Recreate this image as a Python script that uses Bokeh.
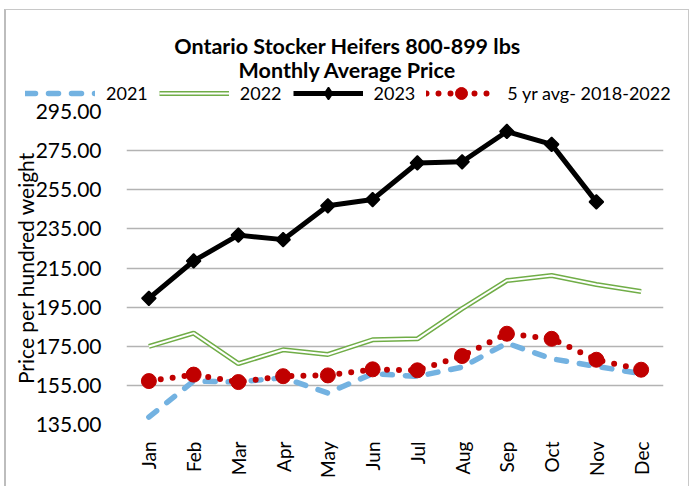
import math
from bokeh.plotting import figure
from bokeh.layouts import column
from bokeh.models import (Range1d, FactorRange, FixedTicker, PrintfTickFormatter,
                          Legend, LegendItem, Label)
from bokeh.embed import file_html
from bokeh.resources import INLINE

months = ["Jan", "Feb", "Mar", "Apr", "May", "Jun", "Jul", "Aug", "Sep", "Oct", "Nov", "Dec"]
y2021 = [138.8, 157.2, 156.7, 158.9, 151.1, 161.0, 159.6, 164.3, 176.6, 168.6, 164.7, 161.0]
y2022 = [174.9, 181.7, 166.1, 173.2, 170.8, 178.3, 178.8, 194.2, 208.6, 211.2, 206.6, 203.0]
y2023 = [199.5, 218.6, 231.8, 229.5, 246.8, 250.0, 268.7, 269.3, 284.8, 278.2, 248.8]
avg5 = [157.2, 160.5, 156.7, 159.7, 160.1, 163.2, 162.7, 170.0, 181.4, 178.8, 168.1, 163.0]
y_ticks = [135, 155, 175, 195, 215, 235, 255, 275, 295]
title_lines = ["Ontario Stocker Heifers 800-899 lbs", "Monthly Average Price"]
legend_labels = ["2021", "2022", "2023", "5 yr avg- 2018-2022"]

FONT = "Lato"
C21, C22, C23, C5 = "#73b2e1", "#70ad47", "black", "#c00000"

W = 682
HEAD_H = 93


def style_2021(fig, x, y):
    return [fig.line(x, y, line_color=C21, line_width=5.5, line_dash="10 13", line_cap="round")]


def style_2022(fig, x, y):
    a = fig.line(x, y, line_color=C22, line_width=5)
    b = fig.line(x, y, line_color="white", line_width=2)
    return [a, b]


def style_2023(fig, x, y, marker="square", angle=math.pi / 4):
    a = fig.line(x, y, line_color=C23, line_width=5, line_join="round")
    b = fig.scatter(x, y, marker=marker, angle=angle, size=10,
                    fill_color=C23, line_color=C23, line_width=1.5)
    return [a, b]


def style_avg(fig, x, y):
    a = fig.line(x, y, line_color=C5, line_width=6, line_dash="0 12", line_cap="round")
    b = fig.scatter(x, y, marker="circle", size=15, fill_color=C5, line_color=C5)
    return [a, b]


# ---------------- main chart ----------------
p = figure(width=W, height=383, output_backend="svg", toolbar_location=None,
           title=None,
           x_range=FactorRange(*months, range_padding=0),
           y_range=Range1d(135, 295),
           min_border_left=120, min_border_right=25, min_border_top=8, min_border_bottom=62)
p.frame_align = False
p.outline_line_color = None
p.background_fill_color = "white"
p.border_fill_color = "white"

p.xgrid.grid_line_color = None
p.ygrid.grid_line_color = "#b3b3b3"
p.ygrid.grid_line_width = 1.6
p.ygrid.ticker = FixedTicker(ticks=y_ticks)

p.yaxis.ticker = FixedTicker(ticks=y_ticks)
p.yaxis.formatter = PrintfTickFormatter(format="%.2f")
p.yaxis.axis_line_color = None
p.yaxis.major_tick_line_color = None
p.yaxis.minor_tick_line_color = None
p.yaxis.major_label_standoff = 19
p.yaxis.major_label_text_font = FONT
p.yaxis.major_label_text_font_size = "21px"
p.yaxis.major_label_text_color = "black"
p.yaxis.axis_label = "Price per hundred weight"
p.yaxis.axis_label_text_font = FONT
p.yaxis.axis_label_text_font_size = "21px"
p.yaxis.axis_label_text_font_style = "normal"
p.yaxis.axis_label_text_color = "black"
p.yaxis.axis_label_standoff = -5

p.xaxis.axis_line_color = None
p.xaxis.major_tick_line_color = None
p.xaxis.minor_tick_line_color = None
p.xaxis.major_label_orientation = math.pi / 2
p.xaxis.major_label_standoff = 11
p.xaxis.major_label_text_font = FONT
p.xaxis.major_label_text_font_size = "19px"
p.xaxis.major_label_text_color = "black"

style_2021(p, months, y2021)
style_2022(p, months, y2022)
style_2023(p, months[:len(y2023)], y2023)
style_avg(p, months, avg5)

# ---------------- header: title + legend ----------------
# same series drawn on a y-range far away from the data, so only the legend samples show
h = figure(width=W, height=HEAD_H, output_backend="svg", toolbar_location=None,
           title=None, x_axis_type=None, y_axis_type=None,
           x_range=FactorRange(*months, range_padding=0), y_range=Range1d(0, 1),
           min_border=0, min_border_left=0, min_border_right=0,
           min_border_top=0, min_border_bottom=0)
h.frame_align = False
h.outline_line_color = None
h.xgrid.grid_line_color = None
h.ygrid.grid_line_color = None
h.background_fill_color = "white"
h.border_fill_color = "white"

for txt, yy in zip(title_lines, [HEAD_H - 35, HEAD_H - 59.5]):
    h.add_layout(Label(x=341, y=yy, x_units="screen", y_units="screen", text=txt,
                       text_font=FONT, text_font_size="21.5px", text_font_style="bold",
                       text_align="center", text_baseline="middle", text_color="black"))

lg21 = style_2021(h, months, y2021)
lg22 = style_2022(h, months, y2022)
lg23 = style_2023(h, months[:len(y2023)], y2023, marker="diamond", angle=0)
lg5 = style_avg(h, months, avg5)
legend = Legend(items=[
    LegendItem(label=legend_labels[0], renderers=lg21),
    LegendItem(label=legend_labels[1], renderers=lg22),
    LegendItem(label=legend_labels[2], renderers=lg23),
    LegendItem(label=legend_labels[3], renderers=lg5),
], orientation="horizontal", location=(19, -5), padding=0, margin=0,
    spacing=11, glyph_width=70, glyph_height=30, label_standoff=11,
    border_line_color=None, background_fill_alpha=0,
    label_text_font=FONT, label_text_font_size="18px", label_text_color="black")
h.add_layout(legend)

layout = column(h, p, spacing=0)
layout.styles = {"margin-left": "4px", "margin-top": "9px",
                 "border-left": "2px solid #bdbdbd", "border-top": "1px solid #c8c8c8",
                 "border-right": "1px solid #c8c8c8"}
open("out.html", "w").write(file_html(layout, INLINE))
